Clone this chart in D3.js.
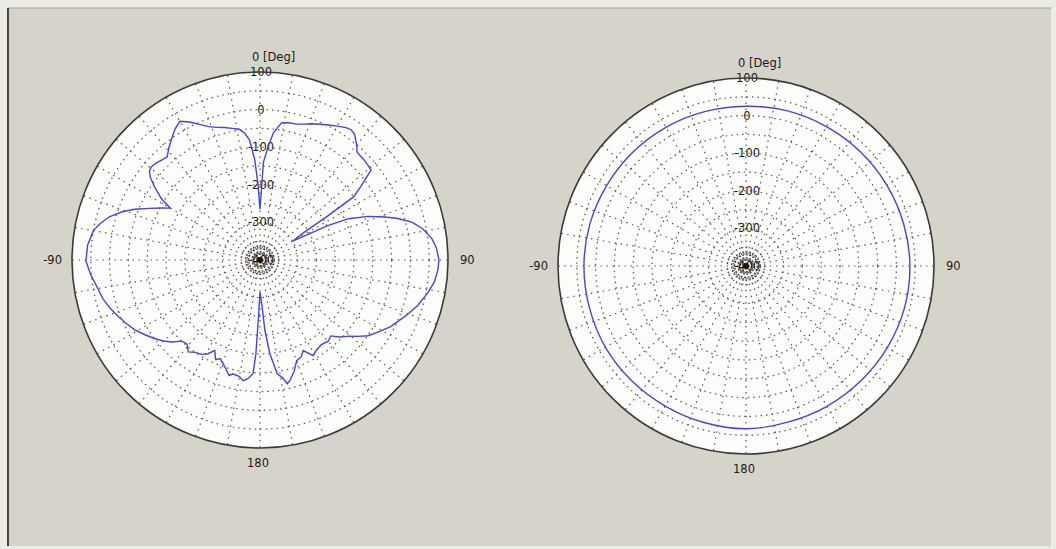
<!DOCTYPE html>
<html>
<head>
<meta charset="utf-8">
<script src="https://cdn.jsdelivr.net/npm/d3@7"></script>
<style>
  body { margin: 0; background: #ecebe6; }
  svg { display: block; }
  text { font-family: "DejaVu Sans", sans-serif; font-size: 11.5px; fill: #1a1a1a; }
</style>
</head>
<body>
<svg id="chart" width="1056" height="549"></svg>
<script>
// radial axis (dB) and angle labels
var rTicks = [100, 0, -100, -200, -300, -400];
var rGrid = [-350, -300, -250, -200, -150, -100, -50, 0, 50];
var angleLabels = [
	{ a: 0, t: '0 [Deg]' },
	{ a: 90, t: '90' },
	{ a: -90, t: '-90' },
	{ a: 180, t: '180' }
];

// left pattern: angle (deg, clockwise from top) and level
var leftAngles = [0, 2, 4, 6, 9, 12, 15, 18, 21, 24, 27, 30, 33, 35, 37, 40, 42, 46, 49, 51, 52, 54, 56, 57, 58, 60,
	62, 63, 65, 68, 71, 73, 76, 79, 83, 86, 90, 93, 97, 101, 106, 111, 117, 121, 125, 128, 130, 134, 137, 140,
	144, 148, 151, 154.5, 157, 160, 163, 166, 167.6, 169, 171.4, 174, 176, 178, 180, 181.5, 182.5, 183.5, 186,
	188, 190, 193.4, 195, 198, 202, 204, 206.6, 209, 211.7, 215, 218, 221, 224, 227, 230, 233.4, 237, 241, 245,
	248, 252, 256, 260.5, 265, 269.7, 275, 280, 283, 286, 289.3, 292, 295, 298, 300, 302, 304.8, 307, 308.7,
	310.7, 313, 316, 318, 321, 324.7, 327, 330, 333, 336, 339, 342, 345, 348, 351, 353, 355, 357, 358.5, 360];
var leftValues = [-265, -140, -100, -60, -30, -27, -26, -20, -12, -5, 3, 11, 20, 23, 18, 0, -14, -16, -18, -20, -38, -70, -100, -187, -264, -300,
	-250, -200, -140, -90, -49, -20, 16, 40, 61, 70, 76, 74, 68, 55, 37, 15, -10, -30, -49, -70, -85, -105, -124, -118,
	-122, -117, -109, -133, -120, -115, -90, -70, -63, -80, -94, -150, -212, -290, -315, -250, -150, -97, -82,
	-76, -85, -89, -82, -100, -117, -110, -131, -115, -105, -100, -90, -104, -100, -80, -65, -50, -35, -18, -5,
	5, 18, 30, 39, 52, 63, 60, 50, 35, 17, -12, -40, -75, -105, -124, -90, -58, -35, -23,
	-19, -22, -28, -31, -15, 3, 15, 26, 12, -5, -20, -29, -35, -42, -48, -60, -79, -133, -200, -265];

// right pattern: nearly omnidirectional
var rightAngles = [0, 15, 30, 45, 60, 75, 90, 105, 120, 135, 150, 165, 180, 195, 210, 225, 240, 255, 270, 285, 300, 315, 330, 345];
var rightValues = [25, 27, 28, 30, 32, 34, 36, 36, 34, 32, 31, 30, 33, 31, 30, 31, 32, 31, 31, 30, 28, 27, 26, 25];

var svg = d3.select('svg#chart');

// window frame
svg.append('rect')
	.attr('x', 8).attr('y', 8)
	.attr('width', 1043).attr('height', 538)
	.style('fill', '#d6d3cb');
svg.append('line')
	.attr('x1', 8).attr('y1', 8).attr('x2', 1051).attr('y2', 8)
	.style('stroke', '#a09e98').style('stroke-width', 1);
svg.append('line')
	.attr('x1', 8).attr('y1', 8).attr('x2', 8).attr('y2', 546)
	.style('stroke', '#444').style('stroke-width', 2);

var R = 188;
var rScale = d3.scaleLinear().domain([-400, 100]).range([0, R]);
var aScale = d3.scaleLinear().domain([0, 360]).range([0, 2 * Math.PI]);

function drawPolar(cx, cy, angles, values, curve) {
	var g = svg.append('g').attr('transform', 'translate(' + cx + ',' + cy + ')');

	g.append('circle')
		.attr('r', R)
		.style('fill', '#fdfdfb');

	// dotted rings
	g.selectAll('circle.ring')
		.data(rGrid)
		.enter()
		.append('circle')
		.attr('class', 'ring')
		.attr('r', function (d) { return rScale(d); })
		.style('fill', 'none')
		.style('stroke', '#555')
		.style('stroke-width', 1.2)
		.style('stroke-dasharray', '1.5,4');

	// dense little rings in the middle
	g.selectAll('circle.inner')
		.data([-392, -385, -378, -370, -362])
		.enter()
		.append('circle')
		.attr('class', 'inner')
		.attr('r', function (d) { return rScale(d); })
		.style('fill', 'none')
		.style('stroke', '#333')
		.style('stroke-width', 1.2)
		.style('stroke-dasharray', '2,1.5');

	// dotted spokes every 10 degrees
	g.selectAll('line.spoke')
		.data(d3.range(0, 360, 10))
		.enter()
		.append('line')
		.attr('class', 'spoke')
		.attr('x1', 0).attr('y1', 0)
		.attr('x2', function (d) { return R * Math.sin(aScale(d)); })
		.attr('y2', function (d) { return -R * Math.cos(aScale(d)); })
		.style('stroke', '#555')
		.style('stroke-width', 1.2)
		.style('stroke-dasharray', '1.5,4.5');

	g.append('circle')
		.attr('r', 3)
		.style('fill', '#111');

	// radial tick labels along 0 deg
	g.selectAll('text.rtick')
		.data(rTicks)
		.enter()
		.append('text')
		.attr('class', 'rtick')
		.attr('x', 1)
		.attr('y', function (d) { return -rScale(d) + 4; })
		.style('text-anchor', 'middle')
		.text(function (d) { return d; });

	// pattern
	var line = d3.lineRadial()
		.angle(function (d, i) { return aScale(angles[i]); })
		.radius(function (d) { return rScale(d); })
		.curve(curve);

	g.append('path')
		.datum(values)
		.attr('d', line)
		.style('fill', 'none')
		.style('stroke', '#4545d6')
		.style('stroke-width', 1.4);

	// outer circle
	g.append('circle')
		.attr('r', R)
		.style('fill', 'none')
		.style('stroke', '#3a3a3a')
		.style('stroke-width', 1.6);

	// angle labels
	g.selectAll('text.alabel')
		.data(angleLabels)
		.enter()
		.append('text')
		.attr('class', 'alabel')
		.attr('x', function (d) {
			if (d.a === 90) return R + 12;
			if (d.a === -90) return -R - 10;
			if (d.a === 0) return -8;
			return -2;
		})
		.attr('y', function (d) {
			if (d.a === 0) return -R - 11;
			if (d.a === 180) return R + 19;
			return 4;
		})
		.style('text-anchor', function (d) {
			if (d.a === -90) return 'end';
			if (d.a === 180) return 'middle';
			return 'start';
		})
		.text(function (d) { return d.t; });
}

drawPolar(260, 260, leftAngles, leftValues, d3.curveLinear);
drawPolar(746, 266, rightAngles, rightValues, d3.curveCatmullRomClosed);
</script>
</body>
</html>
